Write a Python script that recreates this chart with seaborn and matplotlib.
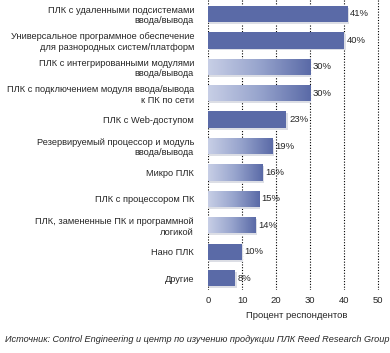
import matplotlib
matplotlib.use("Agg")
import matplotlib.pyplot as plt
import matplotlib.patches as mpatches
from matplotlib.colors import LinearSegmentedColormap
import numpy as np
import pandas as pd
import seaborn as sns

categories = [
    "ПЛК с удаленными подсистемами\nввода/вывода",
    "Универсальное программное обеспечение\nдля разнородных систем/платформ",
    "ПЛК с интегрированными модулями\nввода/вывода",
    "ПЛК с подключением модуля ввода/вывода\nк ПК по сети",
    "ПЛК с Web-доступом",
    "Резервируемый процессор и модуль\nввода/вывода",
    "Микро ПЛК",
    "ПЛК с процессором ПК",
    "ПЛК, замененные ПК и программной\nлогикой",
    "Нано ПЛК",
    "Другие",
]
values = [41, 40, 30, 30, 23, 19, 16, 15, 14, 10, 8]
gradient = [False, False, True, True, False, True, True, True, True, False, False]
x_ticks = [0, 10, 20, 30, 40, 50]

df = pd.DataFrame({"cat": categories, "val": values})

sns.set_style("white")
plt.rcParams["font.family"] = ["Liberation Sans", "DejaVu Sans"]

fig = plt.figure(figsize=(3.9, 3.53), dpi=100)
ax = fig.add_axes([208 / 390, 1 - 290 / 353, 177 / 390, 290 / 353])

dark = "#5a6aa7"
sns.barplot(data=df, x="val", y="cat", color=dark, saturation=1, width=0.62, ax=ax, zorder=3)

cmap = LinearSegmentedColormap.from_list("g", ["#c8cfe6", "#97a4cd", dark])
grad = np.linspace(0, 1, 256).reshape(1, -1)
for patch, g in zip(ax.patches, gradient):
    x0, y0 = patch.get_x(), patch.get_y()
    w, h = patch.get_width(), patch.get_height()
    # soft shadow under each bar
    shadow = mpatches.Rectangle((x0 + 0.4, y0 + 0.07), w, h, color="#dcdee5", zorder=2, lw=0)
    ax.add_patch(shadow)
    patch.set_edgecolor("none")
    if g:
        im = ax.imshow(grad, cmap=cmap, aspect="auto", extent=(x0, x0 + w, y0 + h, y0), zorder=4)
        im.set_clip_path(patch)
    ax.text(x0 + w + 0.8, y0 + h / 2, f"{int(w)}%", va="center", ha="left", fontsize=6.8, zorder=5)

ax.set_xlim(0, 52)
ax.set_ylim(10.45, -0.53)
ax.set_xticks(x_ticks)
ax.set_xticklabels([str(t) for t in x_ticks], fontsize=6.8)
ax.tick_params(axis="y", labelsize=6.7, length=0, pad=10)
ax.tick_params(axis="x", length=0, pad=4)
for lbl in ax.get_yticklabels():
    lbl.set_multialignment("right")
ax.set_ylabel("")
ax.set_xlabel("Процент респондентов", fontsize=6.8, labelpad=5)

for t in x_ticks:
    ax.axvline(t, color="black", lw=0.8, ls=(0, (1, 1.5)), zorder=1)
for s in ax.spines.values():
    s.set_visible(False)

fig.text(0.012, 0.037, "Источник: Control Engineering и центр по изучению продукции ПЛК Reed Research Group",
         fontsize=6.55, style="italic", ha="left", va="center")

fig.savefig("out.png", dpi=100)
